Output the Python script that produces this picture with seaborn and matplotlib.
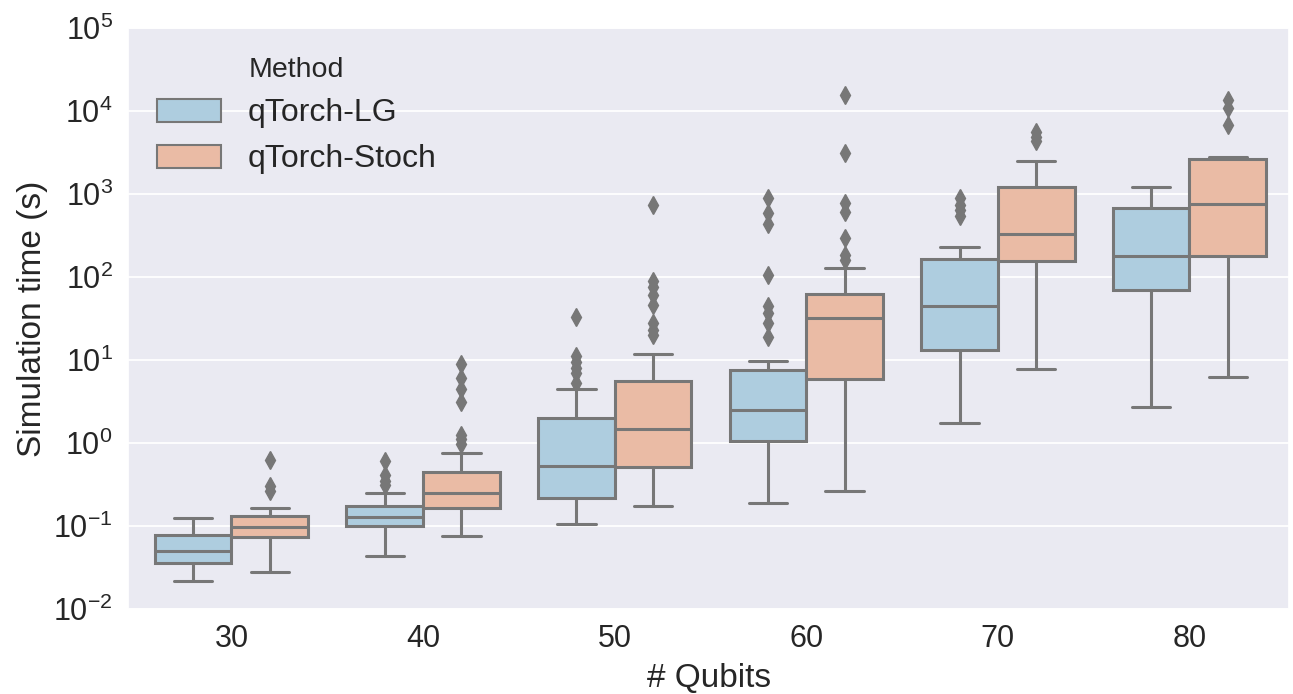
import numpy as np
import pandas as pd
import matplotlib
matplotlib.use("Agg")
import matplotlib.pyplot as plt
from matplotlib.ticker import NullFormatter, NullLocator
import seaborn as sns

qubits = ["30", "40", "50", "60", "70", "80"]
methods = ["qTorch-LG", "qTorch-Stoch"]
ytick_values = [1e-2, 1e-1, 1e0, 1e1, 1e2, 1e3, 1e4, 1e5]

# five-number summaries (seconds)
lg_low = [0.0216, 0.044, 0.105, 0.19, 1.76, 2.74]
lg_q1 = [0.036, 0.101, 0.216, 1.06, 13.2, 69.7]
lg_med = [0.050, 0.129, 0.528, 2.5, 44.7, 179]
lg_q3 = [0.078, 0.176, 1.98, 7.6, 165, 684]
lg_high = [0.126, 0.252, 4.47, 9.7, 228, 1203]
lg_outliers = [[], [0.60, 0.41, 0.35, 0.31], [33, 11, 9.5, 8, 7, 5.2],
               [887, 585, 431, 106, 44, 36.6, 27.6, 19], [887, 736, 641, 543], []]

st_low = [0.028, 0.076, 0.176, 0.26, 7.85, 6.3]
st_q1 = [0.074, 0.166, 0.509, 5.85, 156, 176]
st_med = [0.096, 0.252, 1.47, 31.8, 327, 757]
st_q3 = [0.132, 0.444, 5.63, 62, 1225, 2635]
st_high = [0.163, 0.764, 11.8, 129, 2477, 2770]
st_outliers = [[0.62, 0.30, 0.26], [8.8, 6.0, 4.5, 3.1, 1.25, 1.1, 0.98],
               [736, 88, 76, 60, 46, 27.6, 23, 20],
               [15600, 3090, 773, 612, 292, 184, 160], [5600, 4900, 4270],
               [13580, 10770, 6770]]

colors = ["#AECDDF", "#EABBA5"]

# build sample table reproducing each box summary
rows = []
m = 20
series = [(methods[0], lg_low, lg_q1, lg_med, lg_q3, lg_high, lg_outliers),
          (methods[1], st_low, st_q1, st_med, st_q3, st_high, st_outliers)]
for name, lo, q1, md, q3, hi, outl in series:
    for i, q in enumerate(qubits):
        vals = [lo[i]] + [q1[i]] * m + [md[i]] * m + [q3[i]] * m + [hi[i]] + list(outl[i])
        for v in vals:
            rows.append({"# Qubits": q, "Method": name, "time": v})
df = pd.DataFrame(rows)

sns.set_theme(style="darkgrid")
plt.rcParams["font.family"] = ["Liberation Sans", "DejaVu Sans"]
plt.rcParams["axes.unicode_minus"] = False
plt.rcParams["mathtext.fontset"] = "custom"
plt.rcParams["mathtext.rm"] = "Liberation Sans"
plt.rcParams["mathtext.it"] = "Liberation Sans"

fig = plt.figure(figsize=(12.93, 6.94), dpi=100)
ax = fig.add_axes([0.099, 0.1225, 0.898, 0.8375])

gray = "#777777"
sns.boxplot(data=df, x="# Qubits", y="time", hue="Method", order=qubits,
            hue_order=methods, palette=colors, saturation=1, width=0.8,
            linecolor=gray, linewidth=2.2, ax=ax,
            flierprops=dict(marker="d", markersize=9, markerfacecolor=gray,
                            markeredgecolor=gray))
ax.set_yscale("log")
ax.set_yticks(ytick_values)
ax.set_ylim(1e-2, 1e5)
ax.set_xlim(-0.54, 5.52)
ax.xaxis.grid(False)
ax.yaxis.grid(True, color="white", linewidth=1.3)
ax.yaxis.set_minor_locator(NullLocator())
ax.yaxis.set_minor_formatter(NullFormatter())
ax.tick_params(axis="both", labelsize=22, length=0, pad=11)
ax.set_xlabel("# Qubits", fontsize=24, labelpad=6)
ax.set_ylabel("Simulation time (s)", fontsize=24, labelpad=4)

leg = ax.legend(loc="upper left", title="Method", frameon=False, fontsize=23,
                title_fontsize=20.5, handlelength=2.0, handleheight=0.72,
                handletextpad=0.85, labelspacing=0.5,
                bbox_to_anchor=(-0.011, 1.022), borderaxespad=0.9)
for h in leg.legend_handles:
    h.set_edgecolor(gray)
    h.set_linewidth(1.5)

fig.savefig("out.png", dpi=100)
